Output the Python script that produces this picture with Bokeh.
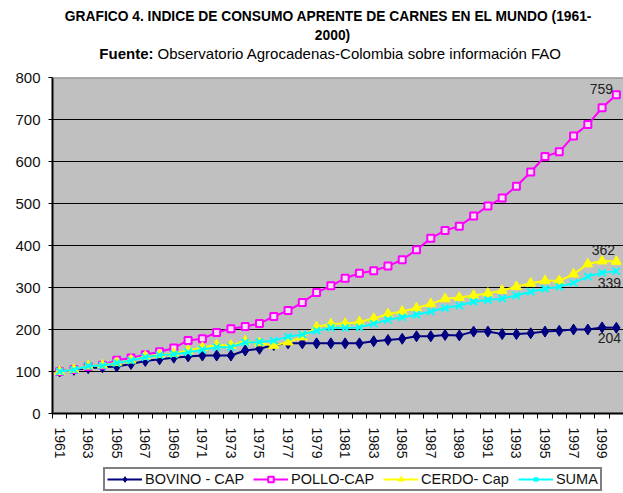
from bokeh.plotting import figure
from bokeh.layouts import column
from bokeh.models import Range1d, FixedTicker, Span, ColumnDataSource
from bokeh.core.properties import value
from bokeh.embed import file_html
from bokeh.resources import INLINE

years = list(range(1961, 2001))

bovino = [100, 104, 108, 110, 112, 118, 125, 129, 133, 136,
          138, 138, 138, 150, 154, 163, 167, 167, 167, 167,
          167, 167, 172, 175, 178, 184, 184, 187, 186, 195,
          195, 189, 189, 191, 195, 197, 200, 200, 205, 204]
pollo = [100, 105, 112, 115, 127, 132, 140, 147, 156, 174,
         178, 193, 202, 207, 214, 231, 245, 264, 288, 304,
         322, 334, 340, 351, 366, 390, 417, 436, 446, 470,
         494, 513, 541, 575, 612, 623, 661, 688, 728, 759]
cerdo = [100, 105, 113, 115, 121, 127, 136, 140, 143, 150,
         157, 163, 162, 172, 168, 162, 170, 182, 206, 213,
         214, 218, 226, 237, 243, 251, 261, 273, 276, 281,
         286, 293, 302, 310, 316, 316, 332, 356, 363, 362]
suma = [100, 104, 113, 114, 120, 126, 134, 139, 141, 146,
        152, 158, 158, 169, 170, 173, 183, 188, 197, 204,
        204, 205, 214, 223, 229, 235, 243, 251, 257, 266,
        270, 274, 281, 290, 297, 302, 311, 326, 335, 339]

series_names = ["BOVINO - CAP", "POLLO-CAP", "CERDO- Cap", "SUMA"]
y_ticks = [0, 100, 200, 300, 400, 500, 600, 700, 800]

title_1 = "GRAFICO 4. INDICE DE CONSUMO APRENTE DE CARNES EN EL MUNDO (1961-"
title_2 = "2000)"
sub_bold = "Fuente:"
sub_rest = "Observatorio Agrocadenas-Colombia sobre información FAO"

FONT = "Liberation Sans"
W = 623
LEFT = 52
TH = 67

styles = [
    dict(color="#000080", marker="diamond", size=11, fill="#000080", lw=1),
    dict(color="#FF00FF", marker="square", size=7, fill="#F4E0F4", lw=2),
    dict(color="#FFFF00", marker="triangle", size=10, fill="#FFFF00", lw=1),
    dict(color="#00FFFF", marker="x", size=10, fill=None, lw=2),
]

# ---------- title figure (frame aligned with chart frame: x in page pixels) ----------
t = figure(width=W, height=TH, output_backend="svg", toolbar_location=None,
           x_range=Range1d(LEFT, W), y_range=Range1d(0, TH),
           min_border_left=LEFT, min_border_right=0, min_border_top=0,
           min_border_bottom=0, outline_line_color=None)
t.axis.visible = False
t.grid.visible = False
t.text(x=[328], y=[TH - 16], text=[title_1], text_font=value(FONT), text_font_size="13.8px",
       text_font_style="bold", text_align="center", text_baseline="middle", text_color="black")
t.text(x=[332], y=[TH - 35], text=[title_2], text_font=value(FONT), text_font_size="13.8px",
       text_font_style="bold", text_align="center", text_baseline="middle", text_color="black")
t.text(x=[153], y=[TH - 53], text=[sub_bold], text_font=value(FONT), text_font_size="15px",
       text_font_style="bold", text_align="right", text_baseline="middle", text_color="black")
t.text(x=[157], y=[TH - 53], text=[sub_rest], text_font=value(FONT), text_font_size="15px",
       text_align="left", text_baseline="middle", text_color="black")

# ---------- main chart ----------
p = figure(width=W, height=395, output_backend="svg", toolbar_location=None,
           x_range=Range1d(years[0] - 0.5, years[-1] + 0.5),
           y_range=Range1d(y_ticks[0], y_ticks[-1]),
           min_border_left=LEFT, min_border_right=0, min_border_top=10,
           min_border_bottom=49)
p.background_fill_color = "#C0C0C0"
p.border_fill_color = "white"
p.outline_line_color = None

p.xgrid.visible = False
p.ygrid.ticker = FixedTicker(ticks=y_ticks[1:-1])
p.ygrid.grid_line_color = "black"
p.ygrid.grid_line_width = 1
p.add_layout(Span(location=y_ticks[-1], dimension="width",
                  line_color="#808080", line_width=2))

p.yaxis.ticker = FixedTicker(ticks=y_ticks)
p.yaxis.axis_line_color = "black"
p.yaxis.axis_line_width = 2
p.yaxis.major_tick_line_color = "black"
p.yaxis.major_tick_out = 4
p.yaxis.major_tick_in = 0
p.yaxis.minor_tick_line_color = None
p.yaxis.major_label_text_font = FONT
p.yaxis.major_label_text_font_size = "15px"
p.yaxis.major_label_text_color = "#111111"
p.yaxis.major_label_standoff = 8

bounds = [y - 0.5 for y in years] + [years[-1] + 0.5]
p.xaxis.ticker = FixedTicker(ticks=years[::2], minor_ticks=bounds)
p.xaxis.axis_line_color = "black"
p.xaxis.axis_line_width = 2
p.xaxis.major_tick_line_color = None
p.xaxis.minor_tick_line_color = "black"
p.xaxis.minor_tick_out = 5
p.xaxis.minor_tick_in = 0
p.xaxis.major_label_orientation = "vertical"
p.xaxis.major_label_text_font = FONT
p.xaxis.major_label_text_font_size = "14px"
p.xaxis.major_label_text_color = "#111111"
p.xaxis.major_label_standoff = 8

src = ColumnDataSource(dict(x=years, s0=bovino, s1=pollo, s2=cerdo, s3=suma))

for i, st in enumerate(styles):
    col = "s%d" % i
    p.line("x", col, source=src, line_color=st["color"], line_width=2)
    p.scatter("x", col, source=src, marker=st["marker"], size=st["size"],
              fill_color=st["fill"], line_color=st["color"], line_width=st["lw"])

lab_specs = [(pollo, -15, -6), (cerdo, -13, -11), (suma, -7, 12), (bovino, -7, 10)]
for ser, xo, yo in lab_specs:
    p.text(x=[years[-1]], y=[ser[-1]], text=[str(ser[-1])], text_font=value(FONT),
           text_font_size="14px", text_color="#222222", text_align="center",
           text_baseline="middle", x_offset=xo, y_offset=yo)

# ---------- legend figure ----------
LH = 493 - TH - 395
lf = figure(width=W, height=LH, output_backend="svg", toolbar_location=None,
            x_range=Range1d(0, 1), y_range=Range1d(0, 1),
            min_border_left=LEFT, min_border_right=0, min_border_top=0,
            min_border_bottom=0, outline_line_color=None)
lf.axis.visible = False
lf.grid.visible = False
# legend-only renderers: off-range data (clipped), only the legend glyph shows
for name, st in zip(series_names, styles):
    lf.line(x=[5, 6], y=[5, 6], line_color=st["color"], line_width=2, legend_label=name)
    lf.scatter(x=[5], y=[5], marker=st["marker"], size=st["size"], fill_color=st["fill"],
               line_color=st["color"], line_width=st["lw"], legend_label=name)

lg = lf.legend[0]
lg.orientation = "horizontal"
lg.location = (103 - LEFT, 2)
lg.border_line_color = "black"
lg.border_line_width = 2
lg.background_fill_color = "white"
lg.background_fill_alpha = 1
lg.label_text_font = FONT
lg.label_text_font_size = "14.5px"
lg.label_text_color = "#111111"
lg.glyph_width = 35
lg.glyph_height = 14
lg.label_height = 14
lg.label_standoff = 3
lg.spacing = 9
lg.padding = 2
lg.margin = 0

layout = column(t, p, lf, spacing=0)
open("out.html", "w").write(file_html(layout, INLINE))
